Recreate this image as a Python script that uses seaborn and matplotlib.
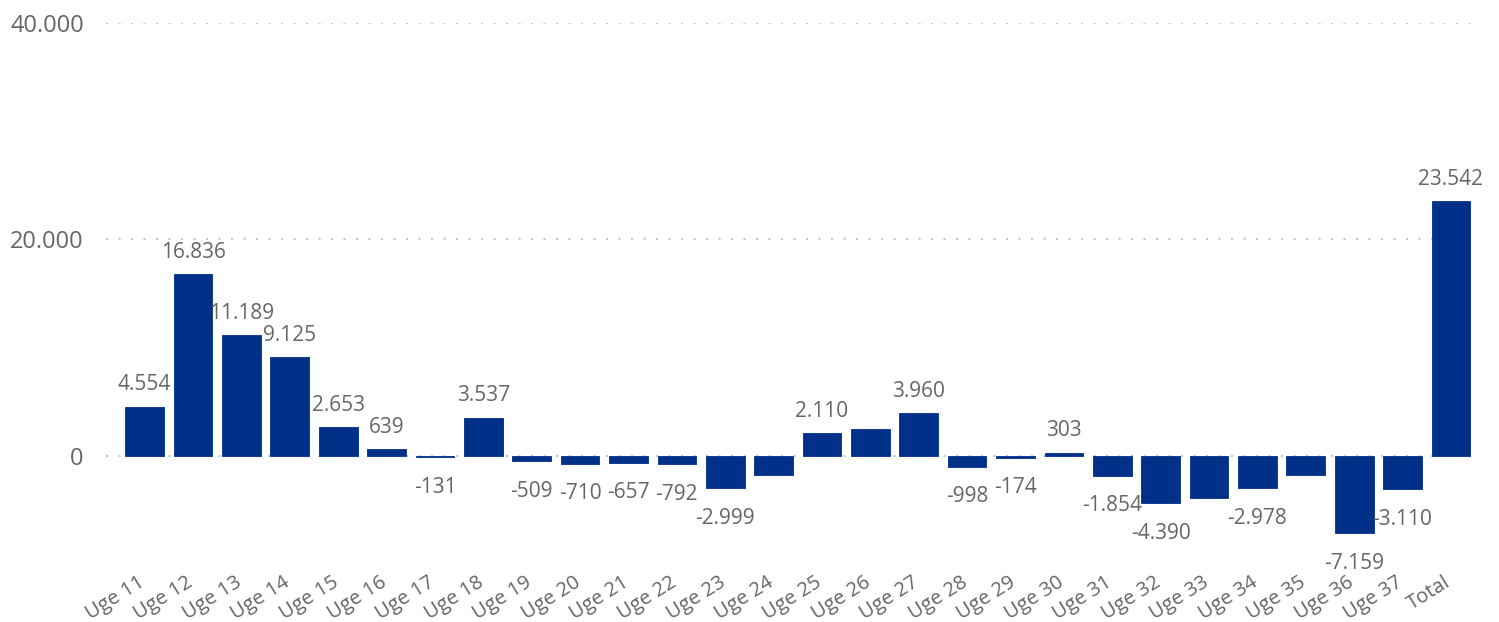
import matplotlib.pyplot as plt
import matplotlib.transforms as mtransforms
import seaborn as sns
import pandas as pd

# Weekly values (Power BI style, "." as thousands separator)
weeks = ["Uge 11", "Uge 12", "Uge 13", "Uge 14", "Uge 15", "Uge 16", "Uge 17",
         "Uge 18", "Uge 19", "Uge 20", "Uge 21", "Uge 22", "Uge 23", "Uge 24",
         "Uge 25", "Uge 26", "Uge 27", "Uge 28", "Uge 29", "Uge 30", "Uge 31",
         "Uge 32", "Uge 33", "Uge 34", "Uge 35", "Uge 36", "Uge 37", "Total"]
values = [4554, 16836, 11189, 9125, 2653, 639, -131,
          3537, -509, -710, -657, -792, -2999, -1750,
          2110, 2480, 3960, -998, -174, 303, -1854,
          -4390, -3880, -2978, -1753, -7159, -3110, 23542]
# labels the original chart dropped because they collided
hidden_labels = ["Uge 24", "Uge 26", "Uge 33", "Uge 35"]
y_ticks = [0, 20000, 40000]

bar_color = "#013088"
text_color = "#666666"
grid_color = "#C6C6C6"


def fmt(v):
    return f"{v:,.0f}".replace(",", ".")


sns.set_theme(style="white")
plt.rcParams["font.family"] = ["Open Sans", "DejaVu Sans"]

df = pd.DataFrame({"week": weeks, "value": values})

fig = plt.figure(figsize=(14.99, 6.22), dpi=100)
ax = fig.add_axes([0.0707, 0.0932, 0.9166, 0.8697])

for t in y_ticks:
    ax.axhline(t, color=grid_color, linewidth=1.5, linestyle=(0, (1, 5)),
               zorder=0)

sns.barplot(data=df, x="week", y="value", color=bar_color, saturation=1,
            width=0.8, edgecolor=bar_color, linewidth=0.6, ax=ax, zorder=2)

for i, (w, v) in enumerate(zip(weeks, values)):
    if w in hidden_labels:
        continue
    if v >= 0:
        ax.annotate(fmt(v), (i, v), xytext=(0, 8), textcoords="offset points",
                    ha="center", va="bottom", fontsize=15, color=text_color)
    else:
        ax.annotate(fmt(v), (i, v), xytext=(0, -14), textcoords="offset points",
                    ha="center", va="top", fontsize=15, color=text_color)

ax.set_xlim(-0.8, len(weeks) - 0.4)
ax.set_ylim(-10000, 40000)
ax.set_yticks(y_ticks)
ax.set_yticklabels([fmt(t) for t in y_ticks])
ax.tick_params(axis="y", length=0, pad=16, labelsize=17, labelcolor=text_color)
ax.tick_params(axis="x", length=0, pad=6, labelsize=14.5, labelcolor=text_color)
# nudge the rotated week labels a little left, like the original
shift = mtransforms.ScaledTranslation(-5 / 72, 0, fig.dpi_scale_trans)
for lbl in ax.get_xticklabels():
    lbl.set_rotation(32)
    lbl.set_ha("right")
    lbl.set_rotation_mode("anchor")
    lbl.set_transform(lbl.get_transform() + shift)
ax.set_xlabel("")
ax.set_ylabel("")
sns.despine(ax=ax, left=True, bottom=True)

fig.savefig("out.png", dpi=100)
